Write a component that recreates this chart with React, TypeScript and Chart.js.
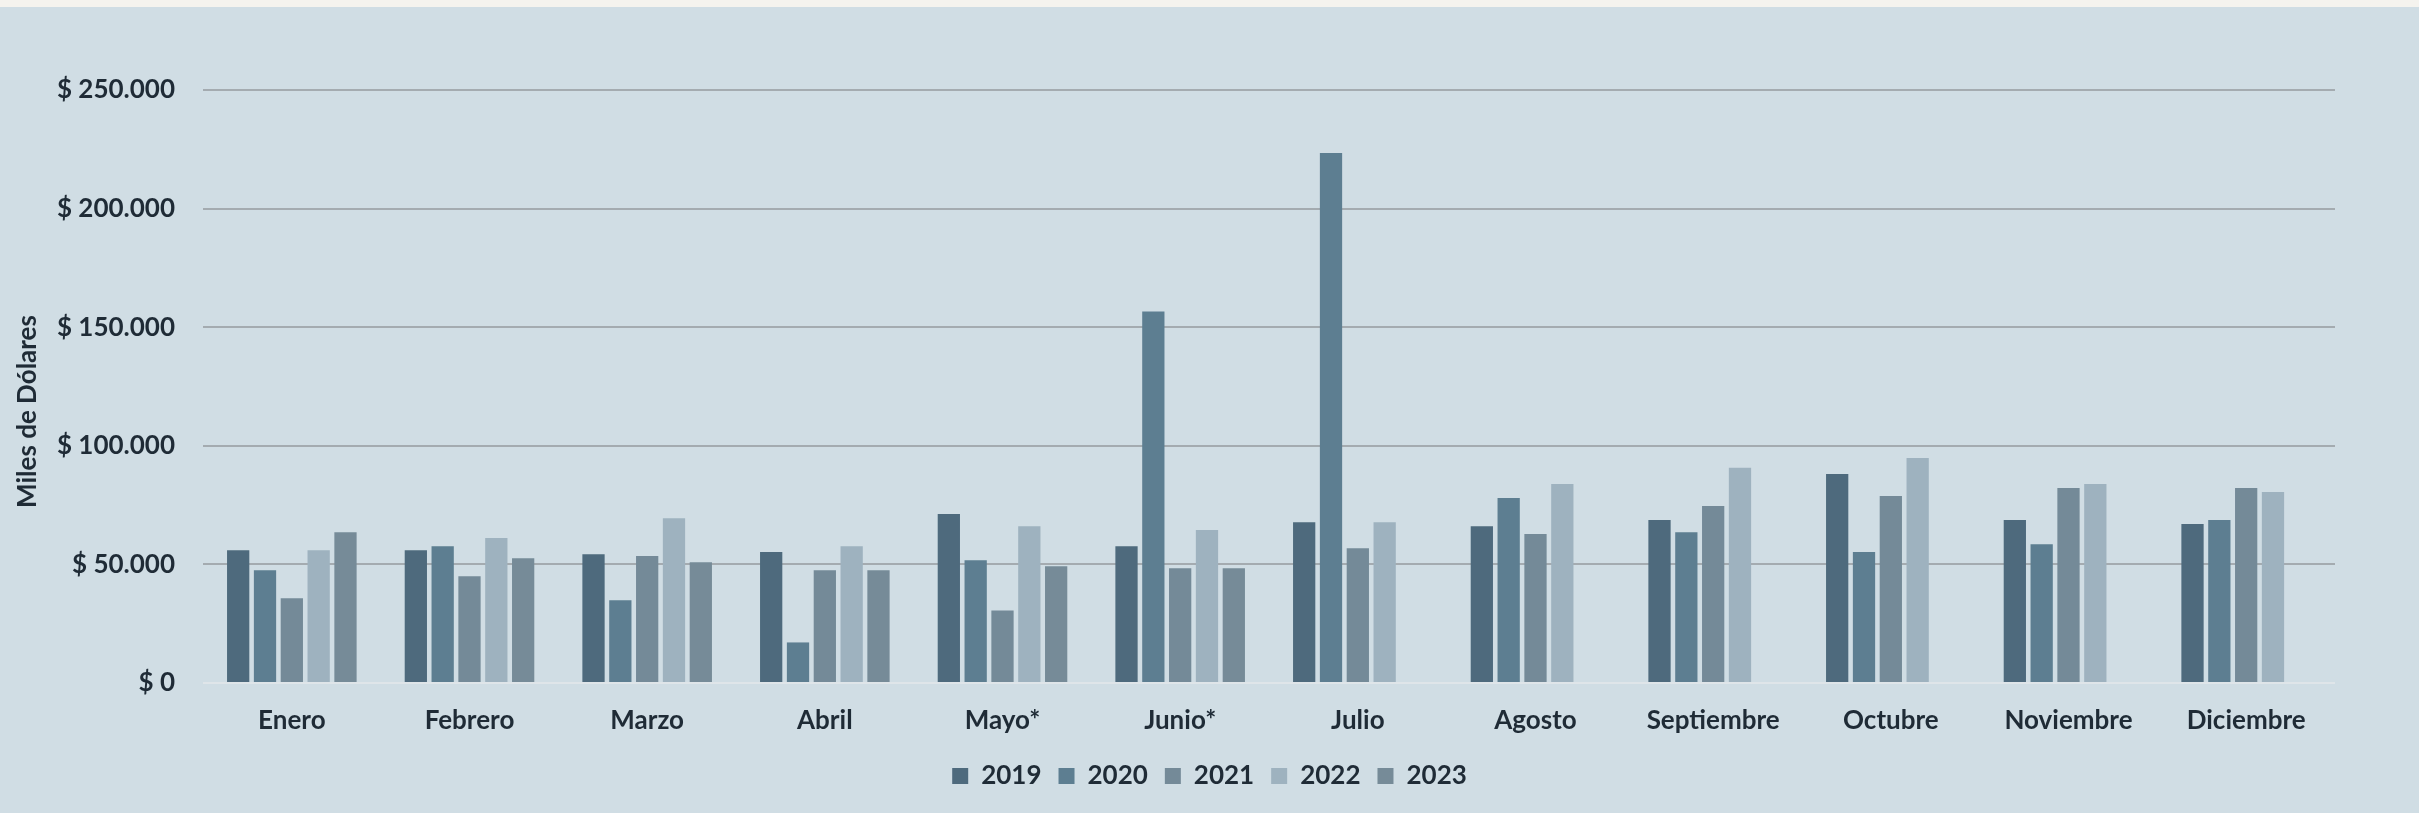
import React, { useEffect, useRef } from "react";
import { Chart, registerables } from "chart.js";

Chart.register(...registerables);

const months = ["Enero", "Febrero", "Marzo", "Abril", "Mayo*", "Junio*", "Julio", "Agosto", "Septiembre", "Octubre", "Noviembre", "Diciembre"];
const years = ["2019", "2020", "2021", "2022", "2023"];
const v2019 = [56000, 56000, 54300, 55200, 71200, 57700, 67800, 66100, 68700, 88100, 68700, 67000];
const v2020 = [47500, 57700, 34900, 17100, 51800, 156600, 223400, 78000, 63600, 55200, 58500, 68700];
const v2021 = [35700, 45000, 53500, 47500, 30600, 48400, 56800, 62800, 74600, 78800, 82200, 82200];
const v2022 = [56000, 61100, 69500, 57700, 66100, 64500, 67800, 83900, 90700, 94900, 83900, 80500];
const v2023 = [63600, 52600, 50900, 47500, 49200, 48400, null, null, null, null, null, null];
const seriesColors = ["#4e6a7d", "#5d7e91", "#748a98", "#9eb2bf", "#768b98"];
const yTicks = [0, 50000, 100000, 150000, 200000, 250000];
const yTitle = "Miles de Dólares";

const TEXT = "#1f2b36";
const FONT = "Lato, 'Open Sans', sans-serif";
const FS = 26;

function fmt(v: number): string {
  return "$ " + String(Math.round(v)).replace(/\B(?=(\d{3})+(?!\d))/g, ".");
}

const yTitlePlugin = {
  id: "yTitleCustom",
  afterDraw(chart: any, _args: any, opts: any) {
    const { ctx, chartArea } = chart;
    ctx.save();
    const cy = (chartArea.top + chartArea.bottom) / 2 + (opts.offsetY || 0);
    ctx.translate(opts.x || 28, cy);
    ctx.rotate(-Math.PI / 2);
    ctx.font = `bold ${opts.size || 24}px ${FONT}`;
    ctx.fillStyle = TEXT;
    ctx.textAlign = "center";
    ctx.textBaseline = "middle";
    ctx.fillText(opts.text, 0, 0);
    ctx.restore();
  },
};

export default function App() {
  const ref = useRef<HTMLCanvasElement | null>(null);

  useEffect(() => {
    document.body.style.margin = "0";
    const all = [v2019, v2020, v2021, v2022, v2023];
    const chart = new Chart(ref.current as HTMLCanvasElement, {
      type: "bar",
      data: {
        labels: months,
        datasets: years.map((y, i) => ({
          label: y,
          data: all[i],
          backgroundColor: seriesColors[i],
          borderWidth: 0,
          categoryPercentage: 0.755,
          barPercentage: 0.83,
        })),
      },
      plugins: [yTitlePlugin],
      options: {
        responsive: false,
        animation: false,
        layout: { padding: { top: 83, right: 0, bottom: 14, left: 0 } },
        plugins: {
          tooltip: { enabled: false },
          legend: {
            position: "bottom",
            labels: {
              boxWidth: 16,
              boxHeight: 16,
              padding: 17,
              color: TEXT,
              font: { family: FONT, size: FS, weight: "bold" },
            },
          },
          yTitleCustom: { text: yTitle, x: 28, offsetY: 25, size: FS },
        } as any,
        scales: {
          x: {
            grid: { display: false, drawTicks: false },
            border: { display: false },
            ticks: {
              color: TEXT,
              padding: 22,
              font: { family: FONT, size: FS, weight: "bold" },
            },
            afterFit: (s: any) => {
              s.height = 63;
            },
          },
          y: {
            min: 0,
            max: 250000,
            afterBuildTicks: (s: any) => {
              s.ticks = yTicks.map((v) => ({ value: v }));
            },
            grid: {
              drawTicks: false,
              lineWidth: 2,
              color: (c: any) => (c.tick && c.tick.value === 0 ? "#dfe5e9" : "#a4abb0"),
            },
            border: { display: false },
            ticks: {
              color: TEXT,
              padding: 28,
              font: { family: FONT, size: FS, weight: "bold" },
              callback: (v: any) => fmt(Number(v)),
            },
            afterFit: (s: any) => {
              s.width = 203;
            },
          },
          yRightSpacer: {
            position: "right",
            min: 0,
            max: 1,
            grid: { display: false, drawTicks: false },
            border: { display: false },
            ticks: { display: false },
            afterFit: (s: any) => {
              s.width = 84;
            },
          },
        },
      } as any,
    });
    return () => chart.destroy();
  }, []);

  return (
    <div style={{ background: "#f5f3ee", paddingTop: 7, width: 2419, height: 806 }}>
      <div style={{ background: "#d0dde4", width: 2419, height: 806 }}>
        <canvas ref={ref} width={2419} height={806} style={{ display: "block" }} />
      </div>
    </div>
  );
}
